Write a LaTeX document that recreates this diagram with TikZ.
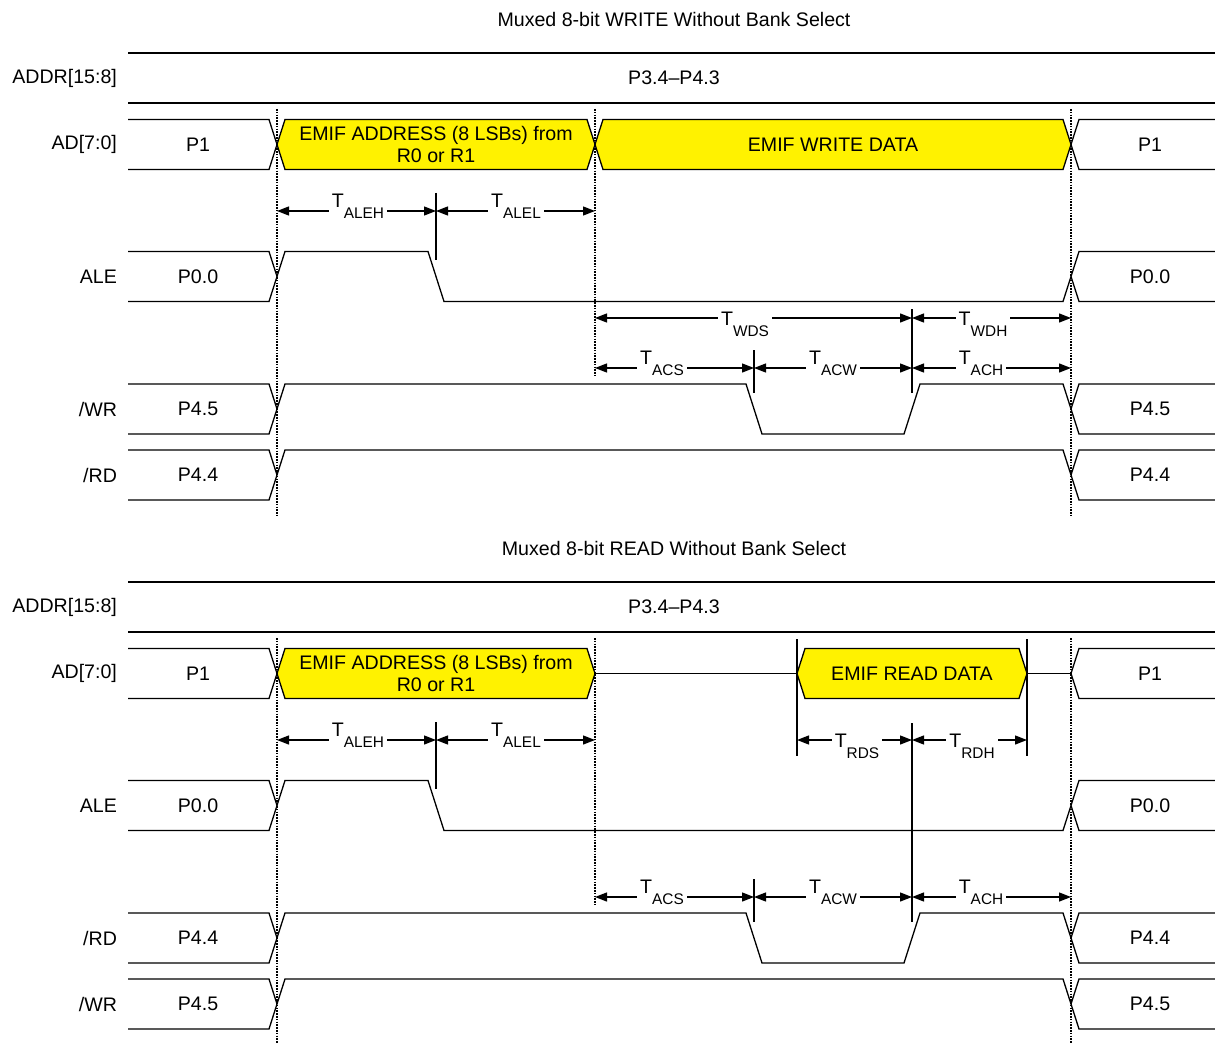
\documentclass[tikz,border=0pt]{standalone}
\usepackage{fontspec}
\setmainfont{Liberation Sans}
\usetikzlibrary{arrows.meta}

\newcommand{\tsub}[1]{T\raisebox{-5.5pt}{\fontsize{7.7}{9}\selectfont #1}}

\begin{document}
\begin{tikzpicture}[x=0.5pt, y=-0.5pt,
    every node/.style={font=\fontsize{9.8}{10.8}\selectfont},
    wave/.style={line width=0.65pt},
    busfill/.style={wave, fill=yellow},
    marker/.style={line width=1.3pt, dash pattern=on 0.8pt off 0.6pt},
    vtick/.style={line width=0.65pt},
    timearrow/.style={line width=0.65pt, {Triangle[length=6pt,width=4.5pt]}-{Triangle[length=6pt,width=4.5pt]}},
    tlbl/.style={fill=white, inner sep=1.5pt, yshift=2.5pt},
    tlow/.style={tlbl, yshift=-5.5pt}]

  \useasboundingbox (0,0) rectangle (1215,1043);

  % WRITE cycle: data phase
  \draw[busfill] (595,144.5) -- (603,119.5) -- (1063,119.5) -- (1071,144.5) -- (1063,169.5) -- (603,169.5) -- cycle;
  \node (wdata) at (833,144.5) {EMIF WRITE DATA};
  \draw[vtick] (912,309) -- (912,393);
  \foreach \a/\b/\lx/\lab in {595/912/745/WDS, 912/1071/983/WDH} {
    \draw[timearrow] (\a,318) -- (\b,318);
    \node[tlow] (T\lab) at (\lx,318) {\tsub{\lab}};
  }

  % READ cycle: bus released, then data
  \begin{scope}[shift={(0,529)}]
    \draw[wave] (595,144.5) -- (797,144.5) (1027,144.5) -- (1071,144.5);
    \draw[busfill] (797,144.5) -- (805,119.5) -- (1019,119.5) -- (1027,144.5) -- (1019,169.5) -- (805,169.5) -- cycle;
    \node (rdata) at (912,144.5) {EMIF READ DATA};
    \draw[vtick] (797,110) -- (797,227) (1027,110) -- (1027,227) (912,194) -- (912,393);
    \foreach \a/\b/\lx/\lab in {797/912/857/RDS, 912/1027/972/RDH} {
      \draw[timearrow] (\a,211) -- (\b,211);
      \node[tlow] (T\lab) at (\lx,211) {\tsub{\lab}};
    }
  \end{scope}

  % both cycles
  \foreach \s/\ttl/\rc/\pc/\rd/\pd in {0/WRITE/{/WR}/P4.5/{/RD}/P4.4, 529/READ/{/RD}/P4.4/{/WR}/P4.5} {
  \begin{scope}[shift={(0,\s)}]
    \node (title\s) at (674,19) {Muxed 8-bit \ttl\ Without Bank Select};
    \draw[wave] (128,53) -- (1215,53) (128,103) -- (1215,103);
    \node (addr\s) at (674,78) {P3.4--P4.3};

    % signal names and port pins
    \foreach \cy/\n/\p [count=\i] in {144.5/AD[7:0]/P1, 276.5/ALE/P0.0, 409/\rc/\pc, 475/\rd/\pd} {
      \node[anchor=east] (name\s-\i) at (124,\cy) {\n};
      \node (pl\s-\i) at (198,\cy) {\p};
      \node (pr\s-\i) at (1150,\cy) {\p};
    }
    \node[anchor=east] (name\s-0) at (124,78) {ADDR[15:8]};

    % AD[7:0]
    \draw[wave] (128,119.5) -- (269,119.5) -- (277,144.5) -- (269,169.5) -- (128,169.5);
    \draw[busfill] (277,144.5) -- (285,119.5) -- (587,119.5) -- (595,144.5) -- (587,169.5) -- (285,169.5) -- cycle;
    \node[align=center] (adr\s) at (436,144.5) {EMIF ADDRESS (8 LSBs) from\\R0 or R1};
    \draw[wave] (1215,119.5) -- (1079,119.5) -- (1071,144.5) -- (1079,169.5) -- (1215,169.5);

    % ALE
    \draw[wave] (128,301.5) -- (269,301.5) -- (285,251.5) -- (428,251.5) -- (444,301.5) -- (1063,301.5) -- (1079,251.5) -- (1215,251.5);
    \draw[wave] (128,251.5) -- (269,251.5) -- (277,276.5);
    \draw[wave] (1071,276.5) -- (1079,301.5) -- (1215,301.5);

    % strobe
    \draw[wave] (128,434) -- (269,434) -- (285,384) -- (746,384) -- (762,434) -- (904,434) -- (920,384) -- (1063,384) -- (1079,434) -- (1215,434);
    \draw[wave] (128,384) -- (269,384) -- (277,409);
    \draw[wave] (1071,409) -- (1079,384) -- (1215,384);

    % other strobe, stays high
    \draw[wave] (128,500) -- (269,500) -- (285,450) -- (1063,450) -- (1079,500) -- (1215,500);
    \draw[wave] (128,450) -- (269,450) -- (277,475);
    \draw[wave] (1071,475) -- (1079,450) -- (1215,450);

    % timing
    \draw[vtick] (436,193) -- (436,260);
    \draw[vtick] (754,350) -- (754,393);
    \foreach \a/\b/\y/\lx/\lab in {277/436/211/358/ALEH, 436/595/211/516/ALEL, 595/754/368/662/ACS, 754/912/368/833/ACW, 912/1071/368/981/ACH} {
      \draw[timearrow] (\a,\y) -- (\b,\y);
      \node[tlbl] (T\lab) at (\lx,\y) {\tsub{\lab}};
    }

    \draw[marker] (277,109) -- (277,516);
    \draw[marker] (1071,109) -- (1071,516);
    \draw[marker] (595,109) -- (595,376);
  \end{scope}
  }
\end{tikzpicture}
\end{document}
